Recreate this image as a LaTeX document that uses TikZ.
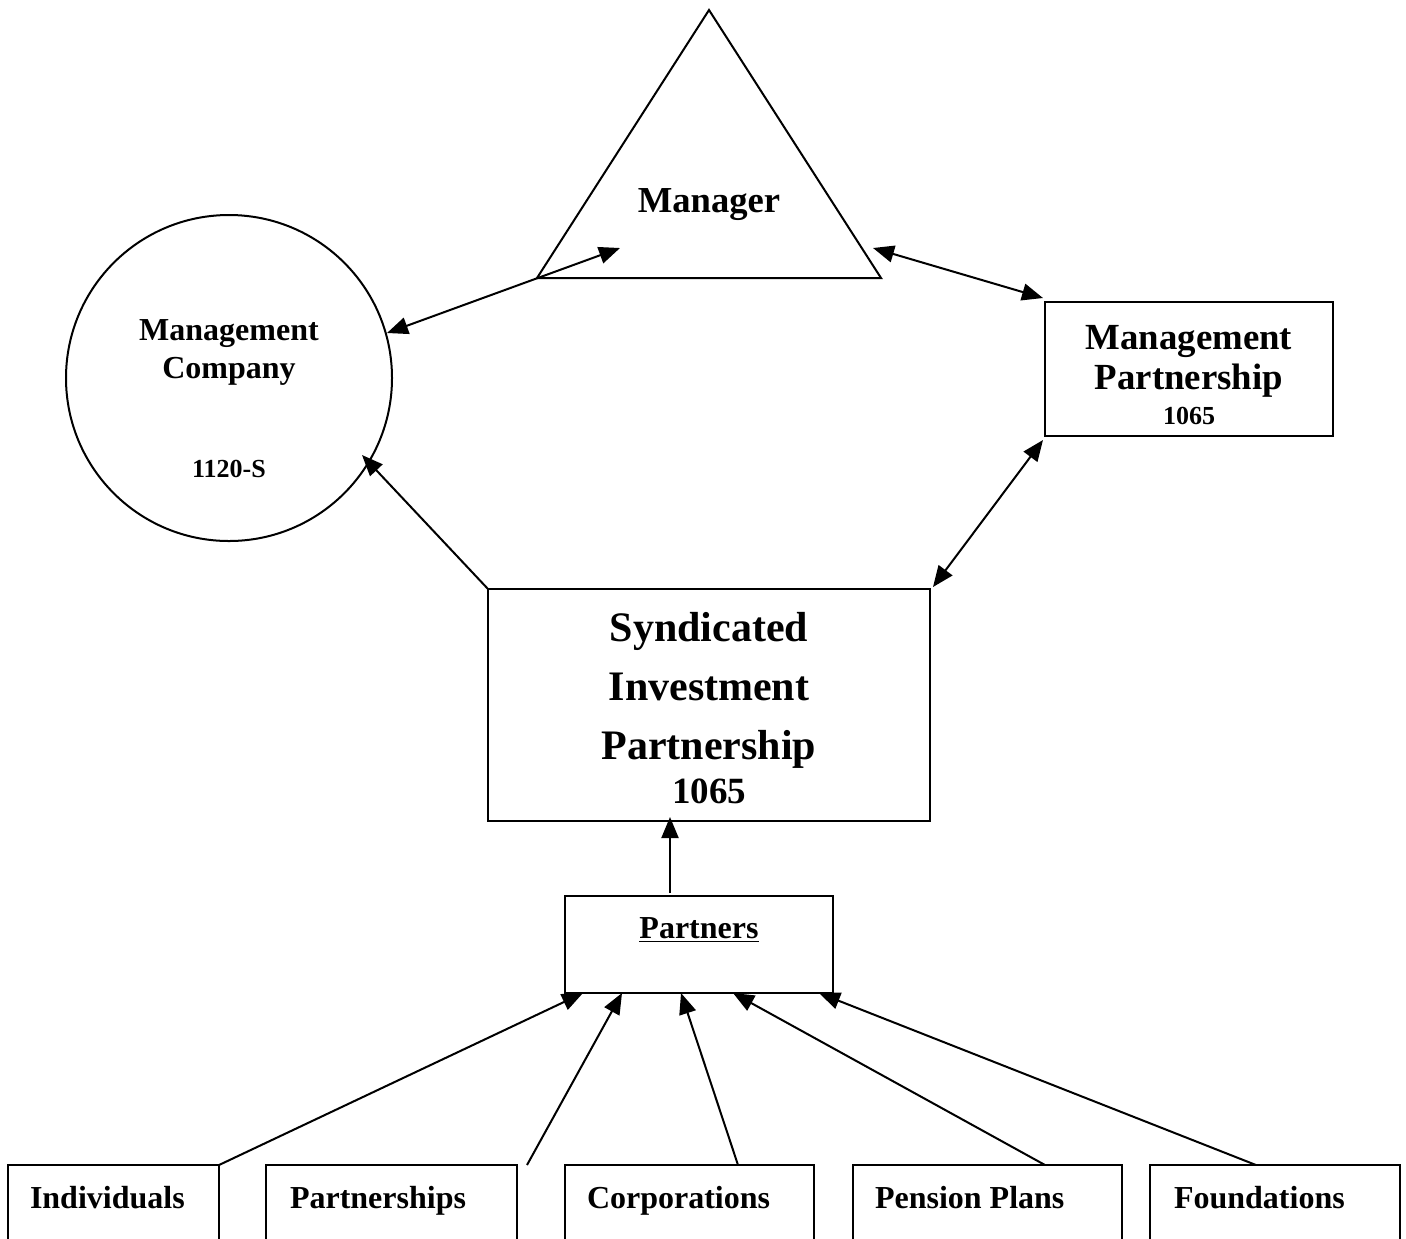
\documentclass[tikz,border=0pt]{standalone}
\usepackage{fontspec}
\setmainfont{Liberation Serif}
\usetikzlibrary{arrows.meta}
\begin{document}
\begin{tikzpicture}[x=0.5pt,y=-0.5pt,
  line width=1pt,
  arr/.style={-{Triangle[length=10.5pt,width=8.5pt]}},
  darr/.style={{Triangle[length=10.5pt,width=8.5pt]}-{Triangle[length=10.5pt,width=8.5pt]}},
  lbl/.style={inner sep=0pt,anchor=base,font=\bfseries},
  lbll/.style={inner sep=0pt,anchor=base west,font=\bfseries\fontsize{16}{19}\selectfont}]
\useasboundingbox (0,0) rectangle (1406,1238);
\clip (0,0) rectangle (1406,1238);
% Manager triangle
\coordinate (tA) at (709,10);
\coordinate (tL) at (537,278);
\coordinate (tR) at (881,278);
\draw (tA) -- (tL) -- (tR) -- cycle;
\node[lbl,font=\bfseries\fontsize{18.3}{22}\selectfont] (mgr) at (709,212) {Manager};
% Management company circle
\node[draw,circle,minimum size=163pt,inner sep=0pt] (mc) at (229,378) {};
\node[lbl,font=\bfseries\fontsize{16}{19}\selectfont] (mc1) at (229,340) {Management};
\node[lbl,font=\bfseries\fontsize{16}{19}\selectfont] (mc2) at (229,378) {Company};
\node[lbl,font=\bfseries\fontsize{13}{16}\selectfont] (mc3) at (229,477) {1120-S};
% Management partnership
\node[draw,minimum width=144pt,minimum height=67pt,inner sep=0pt] (mp) at (1189,369) {};
\node[lbl,font=\bfseries\fontsize{18.4}{22}\selectfont] (mp1) at (1189,349) {Management};
\node[lbl,font=\bfseries\fontsize{18.4}{22}\selectfont] (mp2) at (1189,389) {Partnership};
\node[lbl,font=\bfseries\fontsize{13}{16}\selectfont] (mp3) at (1189,424) {1065};
% Syndicated investment partnership
\node[draw,minimum width=221pt,minimum height=116pt,inner sep=0pt] (sip) at (709,705) {};
\node[lbl,font=\bfseries\fontsize{21}{25}\selectfont] (s1) at (709,641) {Syndicated};
\node[lbl,font=\bfseries\fontsize{21}{25}\selectfont] (s2) at (709,700) {Investment};
\node[lbl,font=\bfseries\fontsize{21}{25}\selectfont] (s3) at (709,759) {Partnership};
\node[lbl,font=\bfseries\fontsize{18.5}{22}\selectfont] (s4) at (709,803) {1065};
% Partners
\node[draw,minimum width=134pt,minimum height=48.5pt,inner sep=0pt] (pt) at (699,944.5) {};
\node[lbl,font=\bfseries\fontsize{16}{19}\selectfont] (ptl) at (699,938) {\underline{Partners}};
% Bottom boxes
\draw (8,1165) rectangle (219,1280);
\draw (266,1165) rectangle (517,1280);
\draw (565,1165) rectangle (814,1280);
\draw (853,1165) rectangle (1122,1280);
\draw (1150,1165) rectangle (1400,1280);
\node[lbll] (b1) at (29,1208) {Individuals};
\node[lbll] (b2) at (289,1208) {Partnerships};
\node[lbll] (b3) at (586,1208) {Corporations};
\node[lbll] (b4) at (874,1208) {Pension Plans};
\node[lbll] (b5) at (1173,1208) {Foundations};
% connector coordinates
\coordinate (c1a) at (387,333);
\coordinate (c1b) at (620,248);
\coordinate (c2a) at (873,248);
\coordinate (c2b) at (1043,298);
\coordinate (c3a) at (1043,440);
\coordinate (c3b) at (933,587);
\coordinate (c4a) at (488,589);
\coordinate (c4b) at (362,455);
\coordinate (c5a) at (670,893);
\coordinate (c5b) at (670,817);
\coordinate (i1) at (219,1165);
\coordinate (i2) at (527,1165);
\coordinate (i3) at (738,1165);
\coordinate (i4) at (1045,1165);
\coordinate (i5) at (1256,1165);
\coordinate (e1) at (583,993);
\coordinate (e2) at (622,993);
\coordinate (e3) at (681,993);
\coordinate (e4) at (733,993);
\coordinate (e5) at (819,993);
\draw[darr] (c1a) -- (c1b);
\draw[darr] (c2a) -- (c2b);
\draw[darr] (c3a) -- (c3b);
\draw[arr] (c4a) -- (c4b);
\draw[arr] (c5a) -- (c5b);
\draw[arr] (i1) -- (e1);
\draw[arr] (i2) -- (e2);
\draw[arr] (i3) -- (e3);
\draw[arr] (i4) -- (e4);
\draw[arr] (i5) -- (e5);
\end{tikzpicture}
\end{document}
